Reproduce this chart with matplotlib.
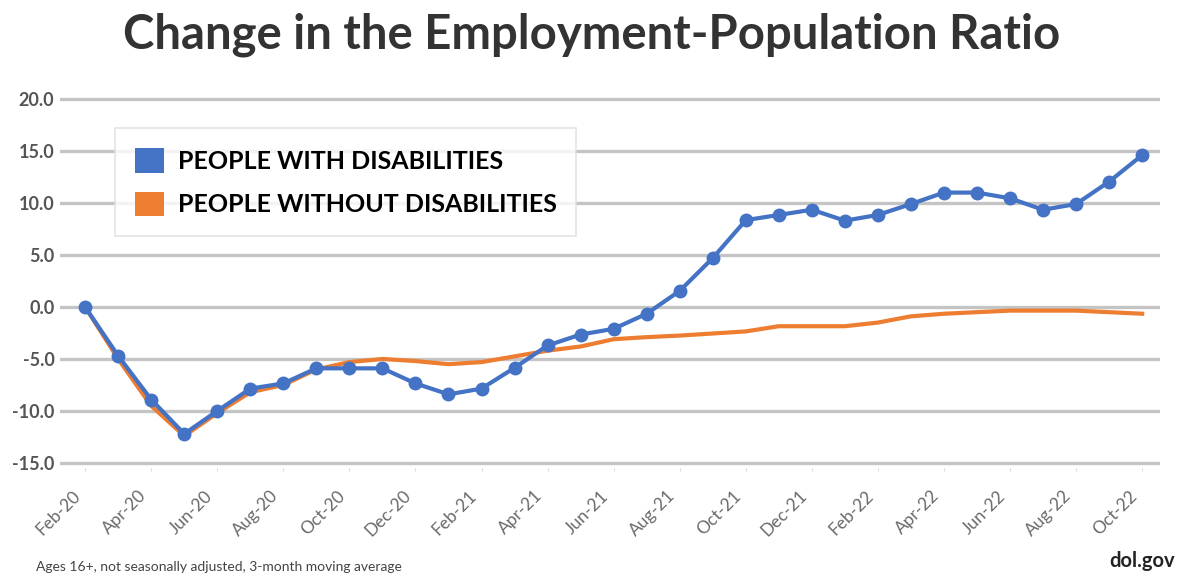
import matplotlib
matplotlib.use("Agg")
import matplotlib.pyplot as plt
import matplotlib.transforms as mtransforms
from matplotlib.patches import Patch

plt.rcParams['font.family'] = ['Lato', 'DejaVu Sans']

# meses de Feb-20 a Oct-22
months = ["Feb-20", "Mar-20", "Apr-20", "May-20", "Jun-20", "Jul-20", "Aug-20", "Sep-20",
          "Oct-20", "Nov-20", "Dec-20", "Jan-21", "Feb-21", "Mar-21", "Apr-21", "May-21",
          "Jun-21", "Jul-21", "Aug-21", "Sep-21", "Oct-21", "Nov-21", "Dec-21", "Jan-22",
          "Feb-22", "Mar-22", "Apr-22", "May-22", "Jun-22", "Jul-22", "Aug-22", "Sep-22",
          "Oct-22"]

with_disab = [0.0, -4.7, -8.9, -12.2, -10.0, -7.85, -7.35, -5.9, -5.9, -5.9, -7.35, -8.4,
              -7.85, -5.85, -3.7, -2.65, -2.1, -0.65, 1.55, 4.7, 8.35, 8.85, 9.35, 8.3,
              8.85, 9.9, 11.0, 11.0, 10.45, 9.35, 9.9, 12.05, 14.6]

without_disab = [0.0, -5.0, -9.5, -12.4, -10.2, -8.2, -7.5, -6.0, -5.3, -5.0, -5.2, -5.5,
                 -5.3, -4.75, -4.2, -3.8, -3.1, -2.9, -2.75, -2.55, -2.35, -1.85, -1.85, -1.85,
                 -1.5, -0.9, -0.65, -0.5, -0.35, -0.35, -0.35, -0.5, -0.65]

yticks = [20, 15, 10, 5, 0, -5, -10, -15]

blue = "#4472C4"
orange = "#ED7D31"

fig = plt.figure(figsize=(11.84, 5.8), dpi=100)
ax = fig.add_axes([0.0507, 0.1928, 0.9293, 0.6455])

x = list(range(len(months)))
ax.plot(x, without_disab, color=orange, lw=3, zorder=2)
ax.plot(x, with_disab, color=blue, lw=3, marker="o", markersize=9, zorder=3)

ax.set_xlim(-0.76, 32.55)
ax.set_ylim(-15.5, 20.5)
ax.set_yticks(yticks)
ax.set_yticklabels(["%.1f" % v for v in yticks], fontsize=13, color="#555555", fontweight="bold")
ax.yaxis.grid(True, color="#c4c4c4", lw=2.4)
ax.set_axisbelow(True)
ax.tick_params(axis="y", length=0, pad=4)

ax.set_xticks(x[::2])
ax.set_xticklabels(months[::2], rotation=45, ha="right", rotation_mode="anchor",
                   fontsize=12.5, color="#6a6a6a")
ax.tick_params(axis="x", length=2, color="#dddddd", pad=12)
shift = mtransforms.ScaledTranslation(-0.13, 0, fig.dpi_scale_trans)
for lbl in ax.get_xticklabels():
    lbl.set_transform(lbl.get_transform() + shift)
for s in ax.spines.values():
    s.set_visible(False)

handles = [Patch(facecolor=blue, label="PEOPLE WITH DISABILITIES"),
           Patch(facecolor=orange, label="PEOPLE WITHOUT DISABILITIES")]
leg = ax.legend(handles=handles, loc="upper left", bbox_to_anchor=(0.05, 0.9087),
                prop={"weight": "bold", "size": 18}, frameon=True, fancybox=False,
                edgecolor="#dddddd", handlelength=1.15, handleheight=1.15,
                borderpad=0.8, labelspacing=0.75, handletextpad=0.55, borderaxespad=0)
leg.get_frame().set_linewidth(1.2)

fig.text(0.5, 0.94, "Change in the Employment-Population Ratio", ha="center", va="center",
         fontsize=34, fontweight="bold", color="#333333")
fig.text(0.03, 0.012, "Ages 16+, not seasonally adjusted, 3-month moving average",
         fontsize=10, color="#444444", ha="left", va="bottom")
fig.text(0.992, 0.015, "dol.gov", fontsize=14.5, fontweight="bold", color="#222222",
         ha="right", va="bottom")

fig.savefig("out.png", dpi=100)
